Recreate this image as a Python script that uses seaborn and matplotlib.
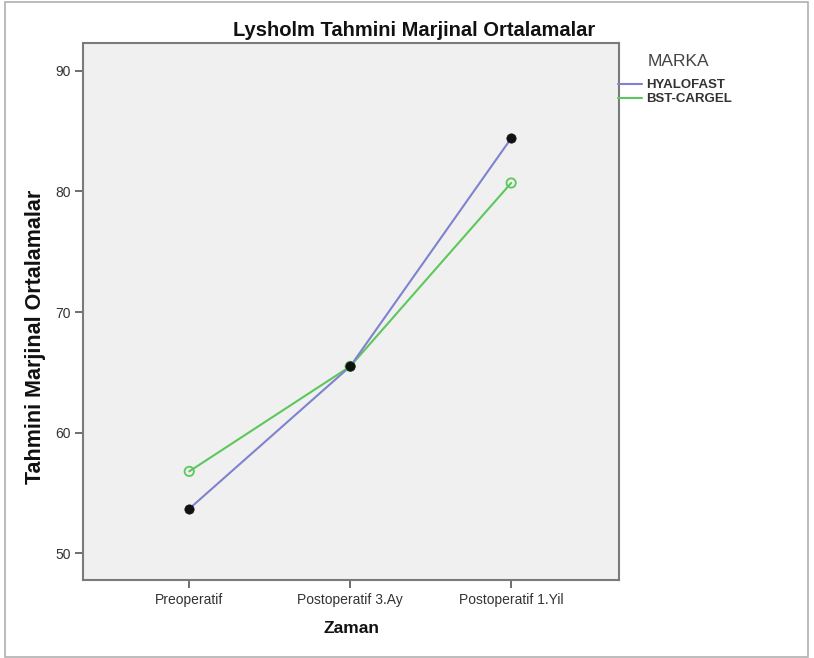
import matplotlib
matplotlib.use("Agg")
import matplotlib.pyplot as plt
import seaborn as sns
import pandas as pd
from matplotlib.lines import Line2D
from matplotlib.patches import Rectangle

categories = ["Preoperatif", "Postoperatif 3.Ay", "Postoperatif 1.Yil"]
hyalofast = [53.7, 65.5, 84.4]
bst_cargel = [56.8, 65.5, 80.7]
groups = ["HYALOFAST", "BST-CARGEL"]
yticks = [50, 60, 70, 80, 90]

df = pd.DataFrame({
    "Zaman": list(range(len(categories))) * 2,
    "Deger": hyalofast + bst_cargel,
    "MARKA": [groups[0]] * 3 + [groups[1]] * 3,
})

sns.set_style("white")
plt.rcParams["font.family"] = ["Liberation Sans", "DejaVu Sans"]

fig = plt.figure(figsize=(8.14, 6.58), dpi=100)
ax = fig.add_axes([83 / 814, 1 - 580 / 658, (619 - 83) / 814, (580 - 43) / 658])
ax.set_facecolor("#F0F0F0")

blue = "#7F82CE"
green = "#5CC85C"

sns.lineplot(data=df[df.MARKA == groups[1]], x="Zaman", y="Deger", color=green,
             lw=1.5, ax=ax, legend=False, zorder=2)
sns.lineplot(data=df[df.MARKA == groups[0]], x="Zaman", y="Deger", color=blue,
             lw=1.5, ax=ax, legend=False, zorder=3)
sns.scatterplot(data=df[df.MARKA == groups[1]], x="Zaman", y="Deger", s=45,
                facecolor="none", edgecolor=green, linewidth=1.3, ax=ax,
                legend=False, zorder=4)
sns.scatterplot(data=df[df.MARKA == groups[0]], x="Zaman", y="Deger", s=45,
                color="#111111", edgecolor="#111111", linewidth=0.5, ax=ax,
                legend=False, zorder=5)

ax.set_xlim(-0.66, 2.67)
ax.set_ylim(47.8, 92.3)
ax.set_xticks(range(len(categories)))
ax.set_xticklabels(categories)
ax.set_yticks(yticks)
ax.tick_params(axis="both", direction="out", length=6, width=1.2, color="#555555",
               labelsize=10, labelcolor="#333333", pad=3, left=True, bottom=True)
ax.tick_params(axis="x", pad=3.5)
for sp in ax.spines.values():
    sp.set_visible(True)
    sp.set_color("#7A7A7A")
    sp.set_linewidth(1.5)

ax.set_xlabel("Zaman", fontsize=12.5, fontweight="bold", labelpad=10, color="#111111")
ax.set_ylabel("Tahmini Marjinal Ortalamalar", fontsize=15.5, fontweight="bold",
              color="#111111")
ax.yaxis.set_label_coords((46 - 83) / 536, (580 - 337) / 537)

fig.text(414 / 814, 1 - 31 / 658, "Lysholm Tahmini Marjinal Ortalamalar",
         ha="center", va="center", fontsize=14.5, fontweight="bold", color="#111111")

fig.text(648 / 814, 1 - 61 / 658, "MARKA", ha="left", va="center",
         fontsize=12.5, color="#444444")
handles = [Line2D([0], [0], color=blue, lw=1.5), Line2D([0], [0], color=green, lw=1.5)]
leg = fig.legend(handles, groups, loc="upper left",
                 bbox_to_anchor=(618 / 814, 1 - 79 / 658), frameon=False,
                 fontsize=9.5, handlelength=1.8, handletextpad=0.3,
                 labelspacing=0.15, borderaxespad=0, borderpad=0)
for t in leg.get_texts():
    t.set_color("#333333")
    t.set_fontweight("bold")

fig.patches.append(Rectangle((5 / 814, 1 / 658), 803 / 814, 655 / 658,
                             transform=fig.transFigure, fill=False,
                             edgecolor="#B0B0B0", lw=1.2))

fig.savefig("out.png", dpi=100)
